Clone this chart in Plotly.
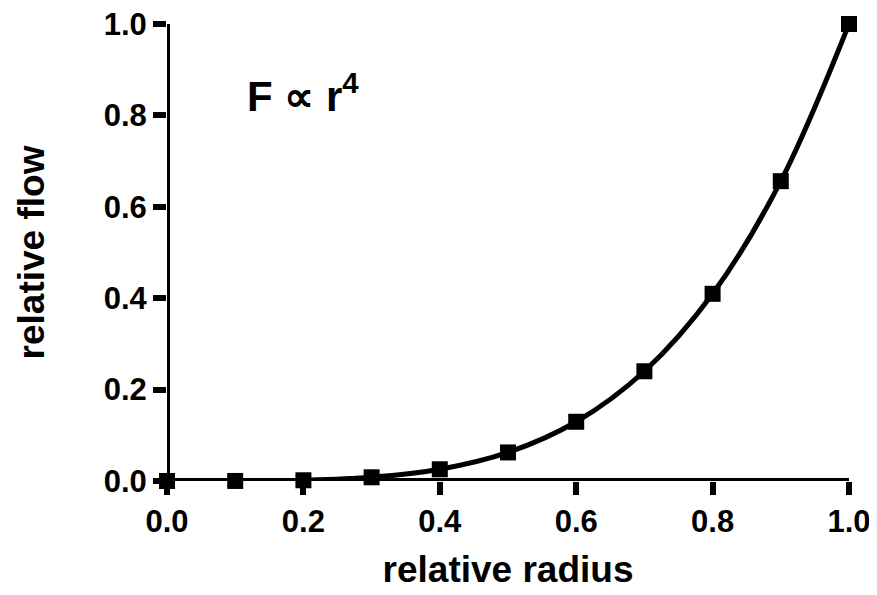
import plotly.graph_objects as go

radius = [0.0, 0.1, 0.2, 0.3, 0.4, 0.5, 0.6, 0.7, 0.8, 0.9, 1.0]
flow = [0.0, 0.0001, 0.0016, 0.0081, 0.0256, 0.0625, 0.1296, 0.2401, 0.4096, 0.6561, 1.0]
tick_vals = [0.0, 0.2, 0.4, 0.6, 0.8, 1.0]
tick_text = ["0.0", "0.2", "0.4", "0.6", "0.8", "1.0"]

FONT = "Liberation Sans, Arial, sans-serif"

fig = go.Figure()
fig.add_trace(go.Scatter(
    x=radius, y=flow, mode="lines+markers",
    line=dict(color="black", width=5, shape="spline", smoothing=1.0),
    marker=dict(symbol="square", size=16, color="black"),
    cliponaxis=False, showlegend=False,
))

axis_common = dict(
    range=[0, 1], showgrid=False, zeroline=False, automargin=False,
    showline=False, ticklabeloverflow="allow",
    ticks="outside", ticklen=13, tickwidth=6, tickcolor="black",
    tickvals=tick_vals, ticktext=tick_text,
    tickfont=dict(family=FONT, size=31, color="black", weight="bold"),
)

fig.update_layout(
    width=869, height=587,
    margin=dict(l=159, r=28, t=16, b=114),
    paper_bgcolor="white", plot_bgcolor="white",
    xaxis=dict(**axis_common,
               title=dict(text="<b>relative radius</b>", standoff=17,
                          font=dict(family=FONT, size=37, color="black"))),
    yaxis=dict(**axis_common,
               title=dict(text="<b>relative flow</b>", standoff=47,
                          font=dict(family=FONT, size=37, color="black"))),
    shapes=[
        dict(type="line", xref="x", yref="y", x0=0, x1=0, y0=0, y1=1,
             line=dict(color="black", width=6), layer="below"),
        dict(type="line", xref="x", yref="y", x0=0, x1=1, y0=0, y1=0,
             line=dict(color="black", width=6), layer="below"),
    ],
    annotations=[dict(
        x=0.2, y=0.85, xref="x", yref="y", showarrow=False,
        text="<b>F ∝ r<sup>4</sup></b>",
        font=dict(family=FONT, size=42, color="black"),
    )],
)

fig.write_html("out.html")
